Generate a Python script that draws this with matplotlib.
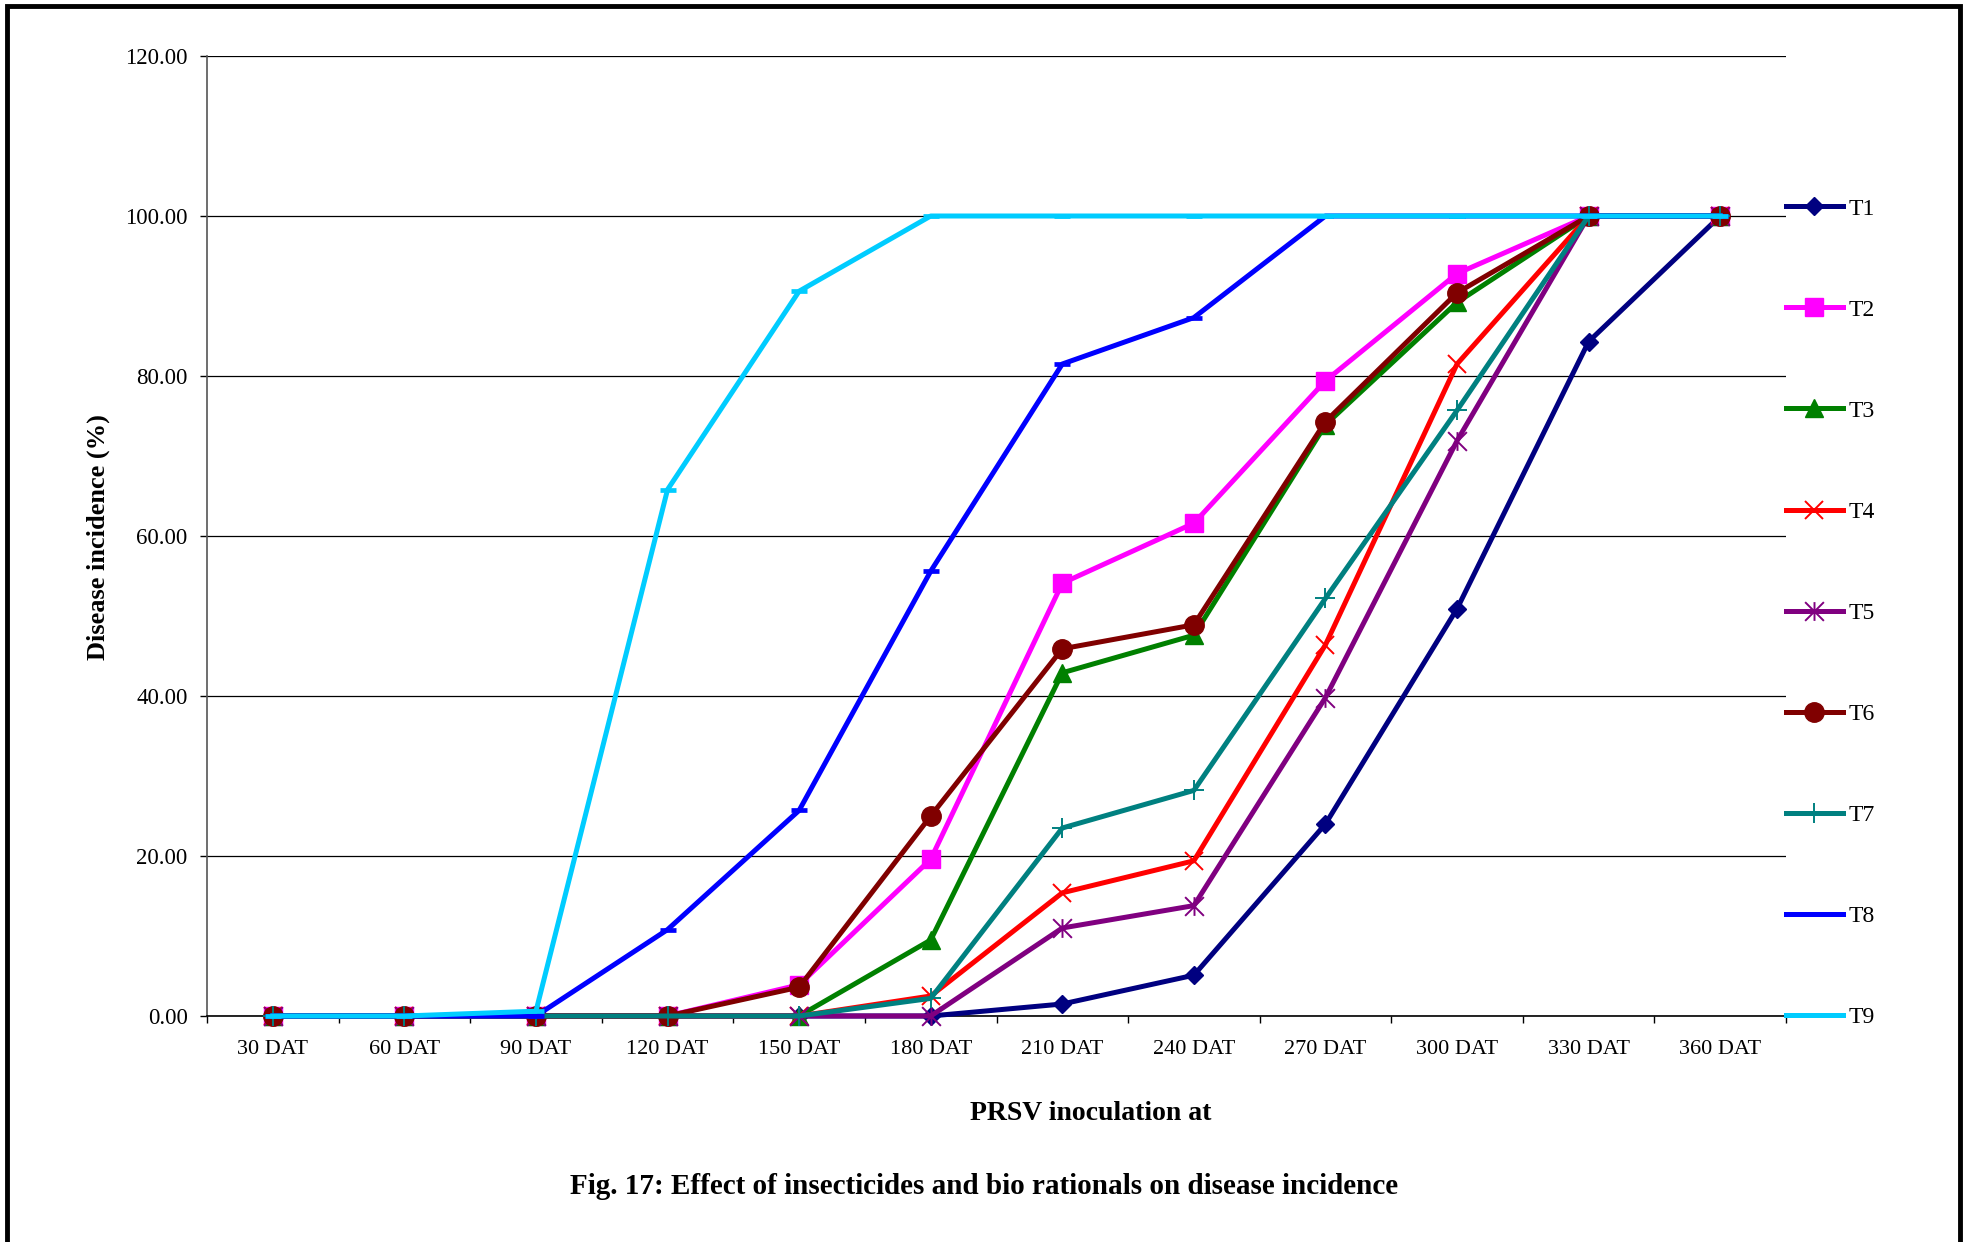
import matplotlib
matplotlib.use("Agg")
import matplotlib.pyplot as plt
from matplotlib.path import Path
from matplotlib.patches import Rectangle
import numpy as np

plt.rcParams['font.family'] = ['Liberation Serif', 'DejaVu Serif']

categories = ["30 DAT", "60 DAT", "90 DAT", "120 DAT", "150 DAT", "180 DAT",
              "210 DAT", "240 DAT", "270 DAT", "300 DAT", "330 DAT", "360 DAT"]

T1 = [0, 0, 0, 0, 0, 0, 1.5, 5.1, 24.0, 50.9, 84.3, 100]
T2 = [0, 0, 0, 0, 3.9, 19.6, 54.1, 61.6, 79.4, 92.8, 100, 100]
T3 = [0, 0, 0, 0, 0, 9.5, 42.9, 47.6, 73.9, 89.2, 100, 100]
T4 = [0, 0, 0, 0, 0, 2.5, 15.4, 19.4, 46.4, 81.5, 100, 100]
T5 = [0, 0, 0, 0, 0, 0, 11.0, 13.8, 39.8, 71.9, 100, 100]
T6 = [0, 0, 0, 0, 3.6, 25.0, 45.9, 48.9, 74.3, 90.4, 100, 100]
T7 = [0, 0, 0, 0, 0, 2.2, 23.5, 28.2, 52.2, 75.7, 100, 100]
T8 = [0, 0, 0, 10.8, 25.7, 55.6, 81.5, 87.3, 100, 100, 100, 100]
T9 = [0, 0, 0.6, 65.8, 90.6, 100, 100, 100, 100, 100, 100, 100]

series_names = ["T1", "T2", "T3", "T4", "T5", "T6", "T7", "T8", "T9"]
series_values = [T1, T2, T3, T4, T5, T6, T7, T8, T9]
y_ticks = [0, 20, 40, 60, 80, 100, 120]

# asterisk marker: x plus vertical bar
star_path = Path(
    [(-0.5, -0.5), (0.5, 0.5), (-0.5, 0.5), (0.5, -0.5), (0, -0.5), (0, 0.5)],
    [Path.MOVETO, Path.LINETO, Path.MOVETO, Path.LINETO, Path.MOVETO, Path.LINETO])

styles = [
    dict(color="#000080", marker="D", ms=9.5, mew=1.0),
    dict(color="#FF00FF", marker="s", ms=13.0, mew=1.0),
    dict(color="#008000", marker="^", ms=13.5, mew=1.0),
    dict(color="#FF0000", marker="x", ms=13.5, mew=1.4),
    dict(color="#800080", marker=star_path, ms=13.5, mew=1.4),
    dict(color="#800000", marker="o", ms=14.0, mew=1.0),
    dict(color="#008080", marker="+", ms=14.0, mew=1.4),
    dict(color="#0000FF", marker="_", ms=12.0, mew=3.4),
    dict(color="#00CCFF", marker="_", ms=12.0, mew=3.4),
]

W, H = 1969, 1242
fig = plt.figure(figsize=(W / 100, H / 100), dpi=100)
ax = fig.add_axes([207 / W, 1 - 1016 / H, (1786 - 207) / W, (1016 - 56) / H])

x = np.arange(len(categories))
handles = []
for name, vals, st in zip(series_names, series_values, styles):
    h, = ax.plot(x, vals, color=st["color"], lw=3.6, marker=st["marker"],
                 markersize=st["ms"], markeredgewidth=st["mew"],
                 markerfacecolor=st["color"], markeredgecolor=st["color"],
                 label=name, zorder=3, clip_on=False)
    handles.append(h)

ax.set_xlim(-0.5, len(categories) - 0.5)
ax.set_ylim(0, 120)
ax.set_yticks(y_ticks)
ax.set_yticklabels([f"{v:.2f}" for v in y_ticks])
ax.set_xticks(x)
ax.set_xticklabels(categories)
ax.set_xticks(np.arange(-0.5, len(categories) + 0.5, 1), minor=True)
ax.tick_params(axis="x", which="major", length=0, pad=17, labelsize=16)
ax.tick_params(axis="x", which="minor", length=5, width=1.0, direction="out")
ax.tick_params(axis="y", which="major", length=5, width=1.0, direction="out",
               pad=9, labelsize=16.5)

ax.yaxis.grid(True, color="black", lw=0.9, zorder=0)
ax.set_axisbelow(True)
for s in ["top", "right"]:
    ax.spines[s].set_visible(False)
ax.spines["left"].set_color("#555555")
ax.spines["left"].set_linewidth(1.2)
ax.spines["bottom"].set_color("black")
ax.spines["bottom"].set_linewidth(1.2)

leg = ax.legend(handles=handles, loc="upper left",
                bbox_to_anchor=(1786 / W, 1 - 198 / H), bbox_transform=fig.transFigure,
                frameon=False, fontsize=17, handlelength=2.4, handletextpad=0.25,
                labelspacing=3.37, borderpad=0, borderaxespad=0, numpoints=1)

fig.text(98 / W, 1 - 537 / H, "Disease incidence (%)", rotation=90,
         ha="center", va="center", fontsize=19, fontweight="bold")
fig.text(1091 / W, 1 - 1114 / H, "PRSV inoculation at", ha="center", va="center",
         fontsize=20, fontweight="bold")
fig.text(984 / W, 1 - 1187 / H,
         "Fig. 17: Effect of insecticides and bio rationals on disease incidence",
         ha="center", va="center", fontsize=21, fontweight="bold")

frame = Rectangle((6.5 / W, -0.02), (1960 - 6.5) / W, 1.02 - 6 / H,
                  transform=fig.transFigure, fill=False, ec="black", lw=3.5)
fig.patches.append(frame)

fig.savefig("out.png", dpi=100)
